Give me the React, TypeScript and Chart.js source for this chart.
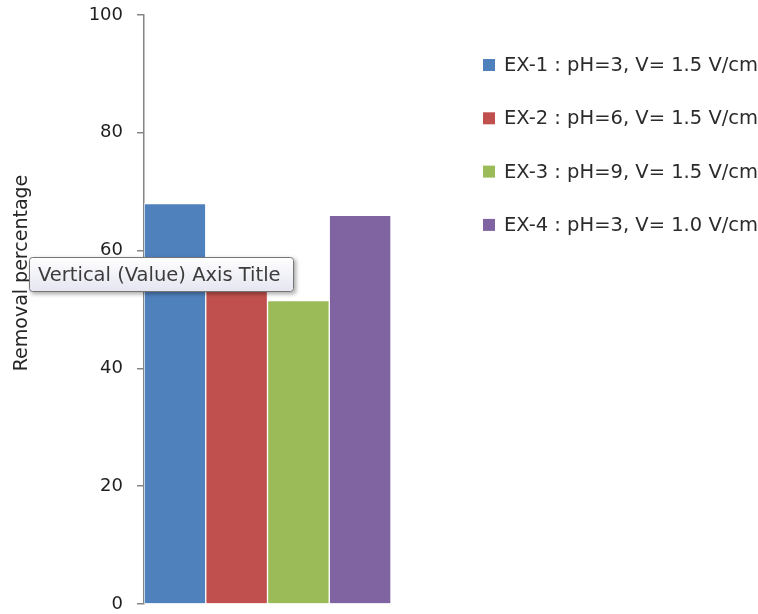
import React, { useEffect, useRef } from "react";
import { Chart, registerables } from "chart.js";

Chart.register(...registerables);

const categories = ["Removal"];
const seriesNames = [
  "EX-1 : pH=3, V= 1.5 V/cm",
  "EX-2 : pH=6, V= 1.5 V/cm",
  "EX-3 : pH=9, V= 1.5 V/cm",
  "EX-4 : pH=3, V= 1.0 V/cm",
];
const seriesValues = [68, 57, 51.5, 66];
const seriesColors = ["#4F81BD", "#C0504D", "#9BBB59", "#8064A2"];
const yTicks = [0, 20, 40, 60, 80, 100];
const yAxisTitle = "Removal percentage";
const hoverTipText = "Vertical (Value) Axis Title";

const FONT = "'DejaVu Sans', Verdana, sans-serif";

const overlayPlugin = {
  id: "overlay",
  afterDraw(chart: any) {
    const ctx = chart.ctx as CanvasRenderingContext2D;
    ctx.save();

    // Y axis title (rotated)
    ctx.save();
    ctx.translate(22, 273);
    ctx.rotate(-Math.PI / 2);
    ctx.fillStyle = "#262626";
    ctx.font = `19px ${FONT}`;
    ctx.textAlign = "center";
    ctx.textBaseline = "middle";
    ctx.fillText(yAxisTitle, 0, 0);
    ctx.restore();

    // Legend
    const legendX = 483;
    const legendY0 = 65;
    const legendStep = 53.3;
    ctx.font = `19.5px ${FONT}`;
    ctx.textBaseline = "middle";
    ctx.textAlign = "left";
    seriesNames.forEach((name, i) => {
      const cy = legendY0 + i * legendStep;
      ctx.fillStyle = seriesColors[i];
      ctx.fillRect(legendX, cy - 6, 12, 12);
      ctx.fillStyle = "#2b2b2b";
      ctx.fillText(name, legendX + 21, cy + 1);
    });

    // Hover tip box
    const bx = 29, by = 257, bw = 265, bh = 35, r = 3;
    ctx.save();
    ctx.shadowColor = "rgba(0,0,0,0.35)";
    ctx.shadowBlur = 4;
    ctx.shadowOffsetX = 2;
    ctx.shadowOffsetY = 2;
    ctx.beginPath();
    ctx.roundRect(bx, by, bw, bh, r);
    const grad = ctx.createLinearGradient(0, by, 0, by + bh);
    grad.addColorStop(0, "#ffffff");
    grad.addColorStop(1, "#e4e5f0");
    ctx.fillStyle = grad;
    ctx.fill();
    ctx.restore();
    ctx.beginPath();
    ctx.roundRect(bx + 0.5, by + 0.5, bw - 1, bh - 1, r);
    ctx.strokeStyle = "#767676";
    ctx.lineWidth = 1;
    ctx.stroke();
    ctx.fillStyle = "#3c3c3c";
    ctx.font = `19.5px ${FONT}`;
    ctx.textAlign = "left";
    ctx.textBaseline = "middle";
    ctx.fillText(hoverTipText, bx + 9, by + bh / 2 + 1);

    ctx.restore();
  },
};

export default function App() {
  const canvasRef = useRef<HTMLCanvasElement | null>(null);

  useEffect(() => {
    if (!canvasRef.current) return;
    const chart = new Chart(canvasRef.current, {
      type: "bar",
      data: {
        labels: categories,
        datasets: seriesNames.map((name, i) => ({
          label: name,
          data: [seriesValues[i]],
          backgroundColor: seriesColors[i],
          borderColor: "#ffffff",
          borderWidth: 1,
          borderSkipped: "bottom",
        })),
      },
      options: {
        responsive: false,
        animation: false,
        layout: { padding: { left: 0, right: 367, top: 15, bottom: 10 } },
        plugins: {
          legend: { display: false },
          tooltip: { enabled: false },
          title: { display: false },
        },
        datasets: {
          bar: { categoryPercentage: 1, barPercentage: 1 },
        },
        scales: {
          x: { display: false },
          y: {
            min: 0,
            max: 100,
            afterFit(scale: any) {
              scale.width = 144;
              scale.paddingTop = 0;
              scale.paddingBottom = 0;
            },
            afterBuildTicks(scale: any) {
              scale.ticks = yTicks.map((v) => ({ value: v }));
            },
            ticks: {
              color: "#1f1f1f",
              font: { family: FONT, size: 18 },
              padding: 14,
            },
            grid: {
              drawOnChartArea: false,
              drawTicks: true,
              tickLength: 7,
              color: "#868686",
              lineWidth: 1.5,
            },
            border: { display: true, color: "#868686", width: 1.5 },
          },
        },
      },
      plugins: [overlayPlugin],
    });
    return () => chart.destroy();
  }, []);

  return (
    <div
      style={{
        position: "fixed",
        left: 0,
        top: 0,
        width: 758,
        height: 614,
        background: "#ffffff",
      }}
    >
      <canvas ref={canvasRef} width={758} height={614} />
    </div>
  );
}
